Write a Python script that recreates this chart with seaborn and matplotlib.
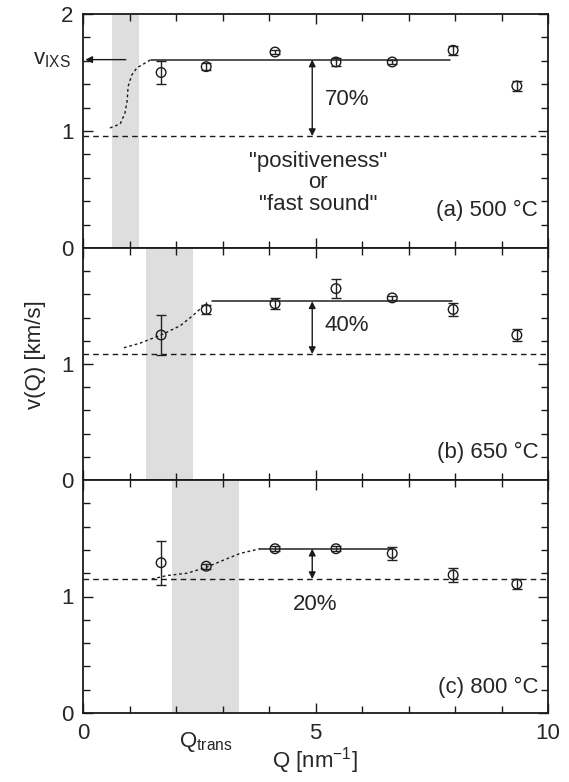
import matplotlib
matplotlib.use("Agg")
import matplotlib.pyplot as plt
import matplotlib.transforms as mtransforms
from matplotlib.ticker import MultipleLocator, FixedLocator
import numpy as np
import seaborn as sns

sns.set_theme(style="ticks")
plt.rcParams['font.family'] = ['Liberation Sans', 'DejaVu Sans']
plt.rcParams['mathtext.fontset'] = 'custom'
plt.rcParams['mathtext.rm'] = 'Liberation Sans'
plt.rcParams['mathtext.it'] = 'Liberation Sans'

FS = 16

# measured points: Q [nm^-1], v [km/s], error
q_pts = [1.68, 2.65, 4.13, 5.44, 6.65, 7.96, 9.33]

v_a = [1.50, 1.55, 1.675, 1.59, 1.59, 1.69, 1.385]
e_a = [0.10, 0.03, 0.02, 0.035, 0.02, 0.04, 0.04]
v_b = [1.25, 1.47, 1.52, 1.65, 1.57, 1.47, 1.25]
e_b = [0.17, 0.04, 0.045, 0.08, 0.02, 0.06, 0.05]
v_c = [1.29, 1.26, 1.41, 1.41, 1.37, 1.185, 1.107]
e_c = [0.19, 0.02, 0.02, 0.02, 0.055, 0.057, 0.043]

# dotted transition curves
curve_q_a = [0.58, 0.80, 0.90, 0.95, 0.97, 1.05, 1.16, 1.29, 1.46]
curve_v_a = [1.026, 1.06, 1.15, 1.26, 1.38, 1.48, 1.54, 1.57, 1.61]
curve_q_b = [0.88, 1.23, 1.68, 2.09, 2.37, 2.67]
curve_v_b = [1.14, 1.18, 1.25, 1.33, 1.42, 1.53]
curve_q_c = [1.48, 1.81, 2.24, 2.65, 3.01, 3.38, 3.81]
curve_v_c = [1.15, 1.18, 1.20, 1.25, 1.31, 1.37, 1.41]

# plateau (v_IXS) lines and "slow" baseline
plateau_q = [[1.46, 7.90], [2.77, 7.94], [3.81, 6.65]]
plateau_v = [1.61, 1.54, 1.41]
base_v = [0.957, 1.086, 1.15]
band = [[0.62, 1.20], [1.35, 2.37], [1.91, 3.35]]
pct = ["70%", "40%", "20%"]
labels = ["(a) 500 °C", "(b) 650 °C", "(c) 800 °C"]

fig = plt.figure(figsize=(5.69, 7.82), dpi=100)
L, W = 83/569, 465/569
tops = [14, 248, 480]
bots = [248, 480, 713]
axes = []
for t, b in zip(tops, bots):
    axes.append(fig.add_axes([L, 1 - b/782, W, (b - t)/782]))

data = [(v_a, e_a, curve_q_a, curve_v_a), (v_b, e_b, curve_q_b, curve_v_b), (v_c, e_c, curve_q_c, curve_v_c)]

for i, ax in enumerate(axes):
    v, e, cq, cv = data[i]
    ax.axvspan(band[i][0], band[i][1], color='#dedede', lw=0, zorder=0)
    ax.axhline(base_v[i], color='k', lw=1, ls=(0, (4, 3)), zorder=1)
    sns.lineplot(x=plateau_q[i], y=[plateau_v[i]]*2, ax=ax, color='#222222', lw=1.1, zorder=2)
    sns.lineplot(x=cq, y=cv, ax=ax, color='k', lw=1, linestyle=(0, (2, 2)), sort=False, zorder=2)
    ax.errorbar(q_pts, v, yerr=e, fmt='none', ecolor='#222222', elinewidth=1, capsize=3.5, capthick=1, zorder=4)
    sns.scatterplot(x=q_pts, y=v, ax=ax, marker='o', s=48, facecolor='none', edgecolor='k', linewidth=1, zorder=3)
    ax.annotate('', xy=(4.93, base_v[i]), xytext=(4.93, plateau_v[i]),
                arrowprops=dict(arrowstyle='<|-|>', color='k', lw=1, mutation_scale=10, shrinkA=0, shrinkB=0))
    ax.set_xlim(0, 10)
    ax.set_ylim(0, 2)
    ax.xaxis.set_major_locator(MultipleLocator(5))
    ax.xaxis.set_minor_locator(MultipleLocator(1))
    ax.yaxis.set_major_locator(MultipleLocator(1))
    ax.yaxis.set_minor_locator(MultipleLocator(0.2))
    ax.tick_params(which='both', direction='in', top=True, right=True, labelsize=FS, width=1, color='k')
    ax.tick_params(which='major', length=7, pad=7)
    ax.tick_params(which='minor', length=5)
    for s in ax.spines.values():
        s.set_linewidth(1.3)
        s.set_color('k')
    ax.set_xlabel('')
    ax.set_ylabel('')
    if i < 2:
        ax.set_xticklabels([])
    if i > 0:
        ax.set_yticks([0, 1])
        ax.yaxis.set_minor_locator(FixedLocator(np.arange(0.2, 2.0, 0.2)))
    ax.text(9.79, [0.325, 0.24, 0.22][i], labels[i], ha='right', va='center', fontsize=FS)

axes[0].text(5.2, 1.265, pct[0], ha='left', va='center', fontsize=FS)
axes[1].text(5.2, 1.33, pct[1], ha='left', va='center', fontsize=FS)
axes[2].text(5.0, 0.93, pct[2], ha='center', va='center', fontsize=FS)

axes[0].text(5.06, 0.556, '"positiveness"\nor\n"fast sound"', ha='center', va='center', fontsize=FS, linespacing=1.05)
axes[0].annotate('', xy=(0.05, plateau_v[0]), xytext=(0.92, plateau_v[0]),
                 arrowprops=dict(arrowstyle='-|>', color='k', lw=1, mutation_scale=10, shrinkA=0, shrinkB=0))
axes[0].text(-0.26, plateau_v[0], r'v$_{\rm IXS}$', ha='right', va='center', fontsize=FS, clip_on=False)

trans = mtransforms.blended_transform_factory(axes[2].transData, axes[2].transAxes)
axes[2].text(2.65, -0.146, r'Q$_{\rm trans}$', transform=trans, ha='center', va='baseline', fontsize=FS)
fig.text(315/569, 1 - 767/782, r'Q [nm$^{-1}$]', ha='center', va='baseline', fontsize=FS)
fig.text(35/569, 1 - 355/782, 'v(Q) [km/s]', rotation=90, ha='center', va='center', fontsize=FS)

fig.savefig('out.png', dpi=100)
